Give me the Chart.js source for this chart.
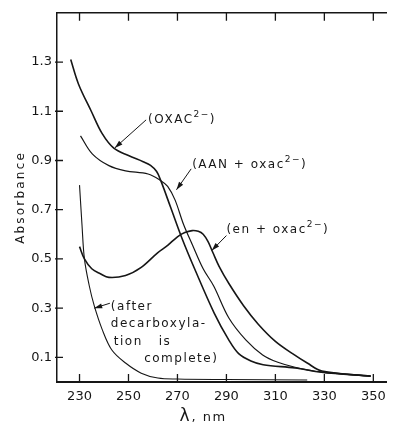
<!DOCTYPE html>
<html>
<head>
<meta charset="utf-8">
<script src="https://cdn.jsdelivr.net/npm/chart.js"></script>
<style>
  html, body { margin: 0; padding: 0; background: #fff; }
  #wrap { width: 393px; height: 425px; }
</style>
</head>
<body>
<div id="wrap"><canvas id="spectraChart" width="393" height="425"></canvas></div>
<script>
// wavelength (nm) / absorbance
const oxacLambda = [226.4, 229.6, 234.8, 239.2, 244, 250, 256, 259, 261.5, 263.2, 267.2, 272, 277, 285, 291, 295, 300, 305, 318, 328.8, 348.8];
const oxacAbs    = [1.31, 1.21, 1.10, 1.01, 0.95, 0.92, 0.895, 0.88, 0.855, 0.818, 0.71, 0.58, 0.46, 0.28, 0.17, 0.115, 0.085, 0.07, 0.057, 0.04, 0.024];

const aanLambda = [230.4, 235.2, 242, 248.8, 258, 263.2, 266, 269, 272.5, 276, 280.5, 284.8, 291, 298, 304.8, 311, 318, 328.8, 348.8];
const aanAbs    = [1.0, 0.927, 0.879, 0.858, 0.845, 0.818, 0.795, 0.74, 0.64, 0.56, 0.46, 0.39, 0.26, 0.17, 0.11, 0.08, 0.06, 0.04, 0.024];

const enLambda = [230, 232, 235, 238.5, 242, 248.8, 255.2, 262, 266, 270, 273, 276, 278.5, 280.5, 282.5, 284.5, 287, 291, 297, 303, 310, 317, 323, 329, 349];
const enAbs    = [0.55, 0.50, 0.46, 0.44, 0.425, 0.433, 0.466, 0.526, 0.555, 0.59, 0.607, 0.615, 0.612, 0.60, 0.57, 0.525, 0.47, 0.40, 0.31, 0.235, 0.165, 0.115, 0.077, 0.045, 0.024];

const decarbLambda = [230, 231, 232, 234, 236, 239.2, 243.2, 248.8, 255.2, 262, 270, 290, 323];
const decarbAbs    = [0.80, 0.64, 0.50, 0.39, 0.31, 0.215, 0.13, 0.077, 0.036, 0.016, 0.012, 0.01, 0.008];

const xTicks = [230, 250, 270, 290, 310, 330, 350];
const yTicks = [0.1, 0.3, 0.5, 0.7, 0.9, 1.1, 1.3];

const ink = '#161616';
const fontFam = '"DejaVu Sans", sans-serif';

function pts(xs, ys) {
  return xs.map((x, i) => ({ x: x, y: ys[i] }));
}

function series(xs, ys, width) {
  return {
    data: pts(xs, ys),
    xAxisID: 'x',
    yAxisID: 'y',
    borderColor: ink,
    borderWidth: width,
    pointRadius: 0,
    fill: false,
    tension: 0.35
  };
}

// labels with arrows, placed in data units; '^' toggles superscript
const notes = [
  { lines: [['(OXAC^2−^)', 258, 1.053]], tail: [257.2, 1.065], head: [244.4, 0.951] },
  { lines: [['(AAN + oxac^2−^)', 276, 0.870]], tail: [275.6, 0.866], head: [269.6, 0.781] },
  { lines: [['(en + oxac^2−^)', 290, 0.607]], tail: [290, 0.595], head: [284, 0.534] },
  { lines: [['(after', 242.8, 0.291], ['decarboxyla-', 242.8, 0.223], ['tion   is', 244, 0.150], ['complete)', 256.4, 0.081]],
    tail: [242.4, 0.320], head: [236, 0.300] }
];

function drawRich(ctx, text, x, y) {
  const parts = text.split('^');
  let cx = x;
  parts.forEach((p, i) => {
    if (!p) return;
    const sup = i % 2 === 1;
    ctx.font = (sup ? '9px ' : '12px ') + fontFam;
    ctx.fillText(p, cx, sup ? y - 6 : y);
    cx += ctx.measureText(p).width;
  });
}

const extras = {
  id: 'extras',
  afterDraw(chart) {
    const ctx = chart.ctx;
    const a = chart.chartArea;
    const sx = chart.scales.x, sy = chart.scales.y;
    ctx.save();
    ctx.strokeStyle = ink;
    ctx.fillStyle = ink;

    // inward tick marks
    ctx.lineWidth = 1.3;
    ctx.beginPath();
    sx.ticks.forEach(t => {
      const px = sx.getPixelForValue(t.value);
      ctx.moveTo(px, a.bottom); ctx.lineTo(px, a.bottom - 8);
      ctx.moveTo(px, a.top); ctx.lineTo(px, a.top + 8);
    });
    sy.ticks.forEach(t => {
      const py = sy.getPixelForValue(t.value);
      ctx.moveTo(a.left - 2, py); ctx.lineTo(a.left + 6, py);
    });
    ctx.stroke();

    // annotations
    ctx.textBaseline = 'alphabetic';
    ctx.textAlign = 'left';
    ctx.letterSpacing = '1.5px';
    notes.forEach(n => {
      n.lines.forEach(l => {
        drawRich(ctx, l[0], sx.getPixelForValue(l[1]), sy.getPixelForValue(l[2]));
      });
      const tx = sx.getPixelForValue(n.tail[0]), ty = sy.getPixelForValue(n.tail[1]);
      const hx = sx.getPixelForValue(n.head[0]), hy = sy.getPixelForValue(n.head[1]);
      ctx.lineWidth = 1;
      ctx.beginPath(); ctx.moveTo(tx, ty); ctx.lineTo(hx, hy); ctx.stroke();
      const ang = Math.atan2(hy - ty, hx - tx);
      ctx.beginPath();
      ctx.moveTo(hx, hy);
      ctx.lineTo(hx - 8 * Math.cos(ang) + 2.5 * Math.sin(ang), hy - 8 * Math.sin(ang) - 2.5 * Math.cos(ang));
      ctx.lineTo(hx - 8 * Math.cos(ang) - 2.5 * Math.sin(ang), hy - 8 * Math.sin(ang) + 2.5 * Math.cos(ang));
      ctx.closePath(); ctx.fill();
    });

    // axis titles
    ctx.letterSpacing = '2.2px';
    ctx.font = '12px ' + fontFam;
    ctx.save();
    ctx.translate(24, (a.top + a.bottom) / 2);
    ctx.rotate(-Math.PI / 2);
    ctx.textAlign = 'center';
    ctx.fillText('Absorbance', 0, 0);
    ctx.restore();

    ctx.letterSpacing = '0px';
    const lx = sx.getPixelForValue(270.8);
    ctx.textAlign = 'left';
    ctx.font = '17px ' + fontFam;
    ctx.fillText('λ', lx, 421);
    ctx.font = '13px ' + fontFam;
    ctx.letterSpacing = '1.5px';
    ctx.fillText(', nm', lx + 12, 421);
    ctx.restore();
  }
};

new Chart(document.getElementById('spectraChart'), {
  type: 'line',
  data: {
    datasets: [
      series(oxacLambda, oxacAbs, 1.6),
      series(aanLambda, aanAbs, 1.2),
      series(enLambda, enAbs, 1.6),
      series(decarbLambda, decarbAbs, 1.1)
    ]
  },
  options: {
    responsive: false,
    animation: false,
    layout: { padding: { top: 12, right: 0, bottom: 0, left: 0 } },
    plugins: { legend: { display: false }, tooltip: { enabled: false } },
    scales: {
      x: {
        type: 'linear', position: 'bottom', min: 220.8, max: 355.2,
        afterBuildTicks: s => { s.ticks = xTicks.map(v => ({ value: v })); },
        afterFit: s => { s.height = 43; },
        grid: { display: false, drawTicks: false },
        border: { display: true, color: ink, width: 2 },
        ticks: { padding: 7, color: ink, font: { family: fontFam, size: 13 }, maxRotation: 0, callback: v => String(v) }
      },
      xTop: {
        type: 'linear', position: 'top', min: 220.8, max: 355.2,
        afterBuildTicks: s => { s.ticks = xTicks.map(v => ({ value: v })); },
        afterFit: s => { s.height = 0; },
        grid: { display: false, drawTicks: false },
        border: { display: true, color: ink, width: 1.5 },
        ticks: { display: false }
      },
      y: {
        type: 'linear', position: 'left', min: 0, max: 1.5,
        afterBuildTicks: s => { s.ticks = yTicks.map(v => ({ value: v })); },
        afterFit: s => { s.width = 57; },
        grid: { display: false, drawTicks: false },
        border: { display: true, color: ink, width: 1.5 },
        ticks: { padding: 5, color: ink, font: { family: fontFam, size: 13 }, callback: v => Number(v).toFixed(1) }
      }
    }
  },
  plugins: [extras]
});
</script>
</body>
</html>
